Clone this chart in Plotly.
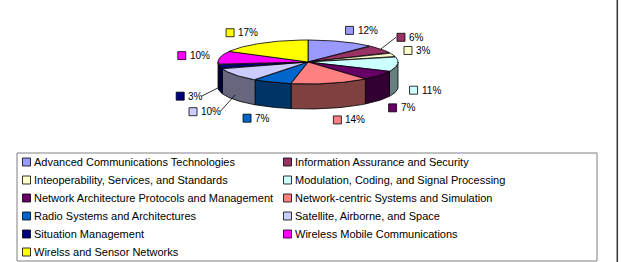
import numpy as np
import plotly.graph_objects as go

categories = [
    "Advanced Communications Technologies",
    "Information Assurance and Security",
    "Inteoperability, Services, and Standards",
    "Modulation, Coding, and Signal Processing",
    "Network Architecture Protocols and Management",
    "Network\u2010centric Systems and Simulation",
    "Radio Systems and Architectures",
    "Satellite, Airborne, and Space",
    "Situation Management",
    "Wireless Mobile Communications",
    "Wirelss and Sensor Networks",
]
values = [12, 6, 3, 11, 7, 14, 7, 10, 3, 10, 17]
pct_labels = [f"{v}%" for v in values]
colors = ["#9999FF", "#993366", "#FFFFCC", "#CCFFFF", "#660066", "#FF8080",
          "#0066CC", "#CCCCFF", "#000080", "#FF00FF", "#FFFF00"]
leader_idx = [1, 7, 8]

W, H = 622, 262
cx, cy, rx, ry, depth = 308, 62, 90, 22, 25
FONT = "Liberation Sans, Arial, sans-serif"


def darker(hexc, f=0.5):
    h = hexc.lstrip("#")
    r, g, b = (int(h[i:i + 2], 16) for i in (0, 2, 4))
    return "#%02X%02X%02X" % (int(r * f), int(g * f), int(b * f))


def pt(theta, dy=0.0, sx=rx, sy=ry):
    t = np.radians(theta)
    return cx + sx * np.sin(t), cy - sy * np.cos(t) + dy


fracs = np.array(values, dtype=float) / sum(values)
bounds = np.concatenate([[0.0], np.cumsum(fracs) * 360.0])

fig = go.Figure()

# side walls (front half only)
for i in range(len(values)):
    a, b = max(bounds[i], 90.0), min(bounds[i + 1], 270.0)
    if a < b:
        th = np.linspace(a, b, 40)
        xt, yt = pt(th)
        xb, yb = pt(th[::-1], depth)
        fig.add_trace(go.Scatter(
            x=np.concatenate([xt, xb, xt[:1]]), y=np.concatenate([yt, yb, yt[:1]]),
            mode="lines", fill="toself", fillcolor=darker(colors[i]),
            line=dict(color="black", width=0.8), hoverinfo="skip", showlegend=False))

# top faces
for i in range(len(values)):
    th = np.linspace(bounds[i], bounds[i + 1], 60)
    xs, ys = pt(th)
    fig.add_trace(go.Scatter(
        x=np.concatenate([[cx], xs, [cx]]), y=np.concatenate([[cy], ys, [cy]]),
        mode="lines", fill="toself", fillcolor=colors[i],
        line=dict(color="black", width=0.8), name=categories[i],
        hoverinfo="name", showlegend=False))

shapes = []
annotations = []

# percentage labels
for i, lab in enumerate(pct_labels):
    mid = (bounds[i] + bounds[i + 1]) / 2
    s, c = np.sin(np.radians(mid)), np.cos(np.radians(mid))
    d = 20 if i in leader_idx else 12
    lx = cx + (rx + d) * s
    ly = cy - (ry + d) * c + (depth if c < 0 else 0)
    tw = 5.56 * (len(lab) - 1) + 8.89
    gw = 10 + tw
    if s > 0.2:
        left = lx
    elif s < -0.2:
        left = lx - gw
    else:
        left = lx - gw / 2
    shapes.append(dict(type="rect", xref="x", yref="y", x0=left, x1=left + 8,
                       y0=ly - 4, y1=ly + 4, fillcolor=colors[i],
                       line=dict(color="black", width=0.8)))
    annotations.append(dict(x=left + 10, y=ly, xref="x", yref="y", text=lab,
                            showarrow=False, xanchor="left", yanchor="middle",
                            font=dict(family=FONT, size=10, color="black")))
    if i in leader_idx:
        ex = cx + rx * s
        ey = cy - ry * c + (depth * 0.8 if c < 0 else 0)
        sx0 = left - 1 if s > 0 else left + gw + 1
        shapes.append(dict(type="line", xref="x", yref="y", x0=sx0, y0=ly,
                           x1=ex, y1=ey, line=dict(color="black", width=0.8)))

# legend
shapes.append(dict(type="rect", xref="x", yref="y", x0=17, x1=597, y0=153, y1=261,
                   line=dict(color="#808080", width=1), fillcolor="rgba(0,0,0,0)"))
for i, name in enumerate(categories):
    r, col = divmod(i, 2)
    y = 162 + r * 18
    bx = 22.5 + col * 261
    shapes.append(dict(type="rect", xref="x", yref="y", x0=bx, x1=bx + 8,
                       y0=y - 4, y1=y + 4, fillcolor=colors[i],
                       line=dict(color="black", width=0.8)))
    annotations.append(dict(x=bx + 9.5, y=y, xref="x", yref="y", text=name,
                            showarrow=False, xanchor="left", yanchor="middle",
                            font=dict(family=FONT, size=11, color="black")))

# right border line
shapes.append(dict(type="line", xref="x", yref="y", x0=617.3, x1=617.3, y0=0, y1=H,
                   line=dict(color="#333333", width=1.5)))

fig.update_layout(
    width=W, height=H, autosize=False,
    margin=dict(l=0, r=0, t=0, b=0),
    paper_bgcolor="white", plot_bgcolor="white",
    xaxis=dict(range=[0, W], visible=False, fixedrange=True),
    yaxis=dict(range=[H, 0], visible=False, fixedrange=True),
    shapes=shapes, annotations=annotations,
    showlegend=False,
)

fig.write_html("out.html")
